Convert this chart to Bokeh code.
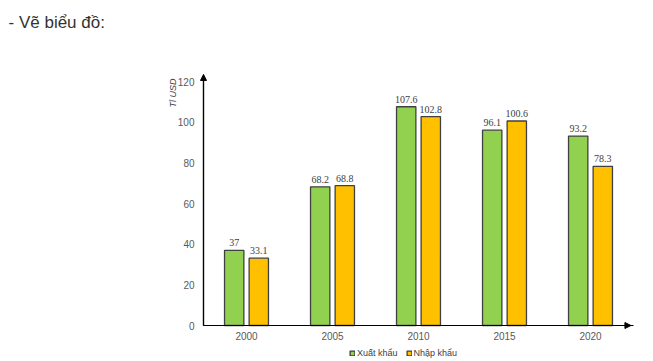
from bokeh.plotting import figure
from bokeh.models import (ColumnDataSource, Range1d, FixedTicker, Label, Arrow,
                          NormalHead, Legend, LegendItem, LabelSet, LinearAxis)
from bokeh.embed import file_html
from bokeh.resources import INLINE

years = ["2000", "2005", "2010", "2015", "2020"]
xuat_khau = [37, 68.2, 107.6, 96.1, 93.2]
nhap_khau = [33.1, 68.8, 102.8, 100.6, 78.3]
y_ticks = [0, 20, 40, 60, 80, 100, 120]

FONT = "Liberation Sans"
GREEN = "#92D050"
ORANGE = "#FFC000"
EDGE = "#404040"

W, H = 653, 361
# plot area in pixels: x 203..633 -> 0..5 ; y 325..77 -> 0..122
PXX = 86.0
PXY = 248 / 122.0
x0 = -203 / PXX
x1 = 5 + (W - 633) / PXX
y0 = -(H - 325) / PXY
y1 = 122 + 77 / PXY

pos = [i + 0.5 for i in range(len(years))]
off = 0.143
bw = 0.225

src = ColumnDataSource(dict(
    xg=[p_ - off for p_ in pos], xo=[p_ + off for p_ in pos],
    xk=xuat_khau, nk=nhap_khau,
    xk_t=[("%g" % v) for v in xuat_khau], nk_t=[("%g" % v) for v in nhap_khau],
))

p = figure(width=W, height=H, output_backend="svg", toolbar_location=None,
           x_range=Range1d(x0, x1), y_range=Range1d(y0, y1),
           x_axis_location=None, y_axis_location=None,
           min_border=0, min_border_left=0, min_border_right=0,
           min_border_top=0, min_border_bottom=0)
p.outline_line_color = None
p.grid.grid_line_color = None
p.background_fill_color = "white"
p.border_fill_color = "white"

rg = p.vbar(x="xg", top="xk", width=bw, source=src, fill_color=GREEN,
            line_color=EDGE, line_width=1.3)
ro = p.vbar(x="xo", top="nk", width=bw, source=src, fill_color=ORANGE,
            line_color=EDGE, line_width=1.3)

for xcol, ycol, tcol in (("xg", "xk", "xk_t"), ("xo", "nk", "nk_t")):
    p.add_layout(LabelSet(x=xcol, y=ycol, text=tcol, source=src, y_offset=4,
                          text_align="center", text_baseline="bottom",
                          text_font=FONT, text_font_size="10px",
                          text_color="#404040"))

xa = LinearAxis(fixed_location=0, bounds=(0, 5),
                ticker=FixedTicker(ticks=pos),
                major_label_overrides={p_: y for p_, y in zip(pos, years)})
ya = LinearAxis(fixed_location=0, bounds=(0, 122),
                ticker=FixedTicker(ticks=y_ticks))
for ax in (xa, ya):
    ax.axis_line_color = "black"
    ax.axis_line_width = 1.2
    ax.major_tick_line_color = None
    ax.minor_tick_line_color = None
    ax.major_label_text_font = FONT
    ax.major_label_text_font_size = "10px"
    ax.major_label_text_color = "#595959"
xa.major_label_standoff = 0
ya.major_label_standoff = 3
p.add_layout(xa, "below")
p.add_layout(ya, "left")

p.add_layout(Arrow(x_start=0, y_start=0, x_end=0, y_end=123.5, line_color="black",
                   line_width=1.2, end=NormalHead(size=6, fill_color="black",
                                                  line_color="black")))
p.add_layout(Arrow(x_start=0, y_start=0, x_end=4.97, y_end=0, line_color="black",
                   line_width=1.2, end=NormalHead(size=6, fill_color="black",
                                                  line_color="black")))

p.add_layout(Label(x=-0.355, y=121.5, text="Tỉ USD", angle=1.5708,
                   text_align="right", text_baseline="middle",
                   text_font=FONT, text_font_size="9px",
                   text_font_style="italic", text_color="#404040"))

p.add_layout(Label(x=-2.267, y=149.0, text="- Vẽ biểu đồ:", text_align="left",
                   text_baseline="middle", text_font=FONT, text_font_size="17px",
                   text_color="#333333"))

legend = Legend(items=[LegendItem(label="Xuất khẩu", renderers=[rg]),
                       LegendItem(label="Nhập khẩu", renderers=[ro])],
                orientation="horizontal", location=(349, 3),
                glyph_width=6, glyph_height=6, label_text_font=FONT,
                label_text_font_size="9px", label_text_color="#404040",
                label_standoff=2, spacing=8, padding=0, margin=0,
                border_line_color=None, background_fill_alpha=0,
                label_height=9)
p.add_layout(legend)

open("out.html", "w").write(file_html(p, INLINE))
